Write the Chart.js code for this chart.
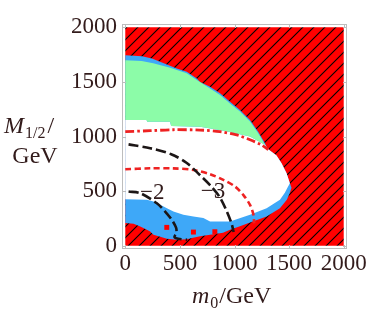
<!DOCTYPE html>
<html>
<head>
<meta charset="utf-8">
<script src="https://cdn.jsdelivr.net/npm/chart.js@4.4.0/dist/chart.umd.min.js"></script>
<style>
  html, body { margin: 0; padding: 0; background: #fff; }
  #wrap { width: 374px; height: 313px; }
</style>
</head>
<body>
<div id="wrap"><canvas id="myChart" width="374" height="313"></canvas></div>
<script>
// axis ticks (GeV)
const xTickValues = [0, 500, 1000, 1500, 2000];
const yTickValues = [0, 500, 1000, 1500, 2000];

// excluded region covers the whole plane, allowed regions are drawn over it
const excludedRegion = [[0, 0], [2000, 0], [2000, 2000], [0, 2000]];

// outer edge of the allowed (blue) region, [m0, M1/2]
const blueRegion = [
  [0, 207], [0, 1744], [153, 1735], [244, 1714], [347, 1674], [472, 1623],
  [563, 1592], [655, 1531], [685, 1500], [776, 1455], [868, 1395], [959, 1318],
  [1050, 1242], [1142, 1151], [1217, 1044], [1279, 938], [1300, 890], [1385, 825],
  [1431, 755], [1477, 664], [1507, 573], [1522, 530], [1507, 484], [1479, 420],
  [1416, 344], [1294, 268], [1142, 213], [1050, 178], [959, 146], [895, 119],
  [776, 100], [685, 87], [621, 73], [563, 59], [472, 55], [381, 64], [320, 82],
  [258, 100], [228, 131], [198, 146], [137, 176], [76, 201]
];

const whiteRegion = [
  [0, 426], [0, 1151], [195, 1151], [200, 1135], [410, 1135], [420, 1096],
  [685, 1090], [914, 1050], [1142, 1000], [1279, 925], [1294, 905], [1300, 890],
  [1385, 825], [1431, 755], [1477, 664], [1507, 573], [1482, 526], [1461, 484],
  [1416, 420], [1294, 344], [1142, 283], [959, 222], [776, 222], [715, 253],
  [624, 268], [532, 283], [441, 313], [381, 344], [320, 374], [258, 405], [198, 420]
];

const greenRegion = [
  [0, 1151], [0, 1699], [150, 1692], [256, 1671], [411, 1630], [563, 1580],
  [655, 1518], [776, 1440], [868, 1380], [959, 1303], [1050, 1228], [1142, 1137],
  [1217, 1030], [1279, 925], [1294, 905], [1279, 922], [1142, 1000], [914, 1050],
  [685, 1090], [420, 1096], [410, 1135], [200, 1135], [195, 1151]
];

// isolated excluded points inside the blue band
const redSpots = [[380, 168], [624, 125], [820, 128]];

// contours
const contourMinus2 = [
  [30, 496], [137, 481], [289, 389], [365, 313], [426, 237], [465, 165],
  [468, 115], [450, 82], [484, 64], [566, 55]
];
const contourMinus3 = [
  [30, 928], [228, 893], [420, 838], [560, 760], [680, 650], [790, 540],
  [868, 440], [929, 315], [974, 200], [992, 125]
];
const redDashed = [
  [0, 700], [228, 709], [441, 708], [624, 694], [776, 655], [898, 603],
  [1005, 542], [1080, 466], [1142, 374], [1172, 290], [1180, 205]
];
const redDashDot = [
  [0, 1044], [228, 1053], [441, 1062], [685, 1059], [868, 1044], [1020, 1014],
  [1142, 970], [1248, 922], [1310, 880]
];

const contourLabels = ["\u22122", "\u22123"];
const contourLabelX = [247, 804];
const contourLabelY = [484, 493];

const textColor = "#321b1b";
const serif = "'Liberation Serif', 'DejaVu Serif', serif";

const toPoints = (arr) => arr.map(([x, y]) => ({ x, y }));

const makeHatch = () => {
  const s = 11;
  const c = document.createElement("canvas");
  c.width = s;
  c.height = s;
  const g = c.getContext("2d");
  g.fillStyle = "#ff0000";
  g.fillRect(0, 0, s, s);
  g.strokeStyle = "#000000";
  g.lineWidth = 1.1;
  g.beginPath();
  g.moveTo(0, s); g.lineTo(s, 0);
  g.moveTo(-1, 1); g.lineTo(1, -1);
  g.moveTo(s - 1, s + 1); g.lineTo(s + 1, s - 1);
  g.stroke();
  return g.createPattern(c, "repeat");
};

const region = (data, color, order) => ({
  data: toPoints(data),
  showLine: true,
  fill: "shape",
  backgroundColor: color,
  borderColor: "rgba(0,0,0,0)",
  borderWidth: 0,
  pointRadius: 0,
  tension: 0,
  order,
});

const contour = (data, color, dash, width) => ({
  data: toPoints(data),
  showLine: true,
  fill: false,
  borderColor: color,
  borderWidth: width,
  borderDash: dash,
  pointRadius: 0,
  tension: 0.3,
  order: 1,
});

const overlay = {
  id: "overlay",
  afterDatasetsDraw(chart) {
    const { ctx, scales: { x, y } } = chart;
    ctx.save();
    ctx.fillStyle = textColor;
    ctx.font = "23px " + serif;
    ctx.textAlign = "center";
    ctx.textBaseline = "middle";
    contourLabels.forEach((t, i) => {
      ctx.fillText(t, x.getPixelForValue(contourLabelX[i]), y.getPixelForValue(contourLabelY[i]));
    });
    ctx.restore();
  },
  afterDraw(chart) {
    const { ctx, chartArea: a, scales: { x, y } } = chart;
    ctx.save();
    // frame
    ctx.strokeStyle = "#bdbdbd";
    ctx.lineWidth = 1;
    ctx.strokeRect(a.left + 0.5, a.top + 0.5, a.width - 1, a.height - 1);
    // ticks pointing inward
    ctx.beginPath();
    xTickValues.forEach((v) => {
      const px = Math.round(x.getPixelForValue(v)) + 0.5;
      ctx.moveTo(px, a.bottom); ctx.lineTo(px, a.bottom - 4);
      ctx.moveTo(px, a.top); ctx.lineTo(px, a.top + 4);
    });
    yTickValues.forEach((v) => {
      const py = Math.round(y.getPixelForValue(v)) + 0.5;
      ctx.moveTo(a.left, py); ctx.lineTo(a.left + 4, py);
      ctx.moveTo(a.right, py); ctx.lineTo(a.right - 4, py);
    });
    ctx.stroke();

    // axis titles
    ctx.fillStyle = textColor;
    ctx.textBaseline = "alphabetic";
    ctx.textAlign = "left";
    const big = "24px " + serif;
    const bigIt = "italic 24px " + serif;
    const small = "16px " + serif;

    // m_0 / GeV
    let cx = 192;
    ctx.font = bigIt;
    ctx.fillText("m", cx, 303);
    cx += ctx.measureText("m").width + 1;
    ctx.font = small;
    ctx.fillText("0", cx, 308);
    cx += ctx.measureText("0").width + 1;
    ctx.font = big;
    ctx.fillText("/GeV", cx, 303);

    // M_{1/2} / GeV
    cx = 4;
    ctx.font = bigIt;
    ctx.fillText("M", cx, 133);
    cx += ctx.measureText("M").width + 1;
    ctx.font = small;
    ctx.fillText("1/2", cx, 138);
    cx += ctx.measureText("1/2").width + 2;
    ctx.font = big;
    ctx.fillText("/", cx, 133);
    ctx.textAlign = "center";
    ctx.fillText("GeV", 35, 163);
    ctx.restore();
  },
};

const initChart = () => {
  const canvas = document.getElementById("myChart");
  const ctx = canvas.getContext("2d");

  new Chart(ctx, {
    type: "scatter",
    data: {
      datasets: [
        contour(contourMinus2, "#1c1616", [10, 4], 2.6),
        contour(contourMinus3, "#1c1616", [10, 4], 2.6),
        contour(redDashed, "#ee2222", [6, 3.5], 2.6),
        contour(redDashDot, "#ee2222", [9, 3, 2.5, 3], 2.8),
        {
          data: toPoints(redSpots),
          showLine: false,
          pointStyle: "rect",
          pointRadius: 3.5,
          backgroundColor: "#ff0000",
          borderWidth: 0,
          order: 2,
        },
        region(greenRegion, "#8cfca8", 5),
        region(whiteRegion, "#ffffff", 6),
        region(blueRegion, "#3ea8f8", 7),
        region(excludedRegion, makeHatch(), 8),
      ],
    },
    options: {
      responsive: false,
      animation: false,
      layout: { padding: { top: 24, right: 27, left: 0, bottom: 0 } },
      plugins: {
        legend: { display: false },
        tooltip: { enabled: false },
      },
      scales: {
        x: {
          type: "linear",
          min: -30,
          max: 2030,
          grid: { display: false, drawTicks: false },
          border: { display: false },
          afterBuildTicks: (s) => { s.ticks = xTickValues.map((v) => ({ value: v })); },
          afterFit: (s) => { s.height = 64; },
          ticks: {
            padding: 1,
            color: textColor,
            font: { family: serif, size: 23 },
            maxRotation: 0,
            autoSkip: false,
            callback: (v) => String(v),
          },
        },
        y: {
          type: "linear",
          min: -30,
          max: 2030,
          grid: { display: false, drawTicks: false },
          border: { display: false },
          afterBuildTicks: (s) => { s.ticks = yTickValues.map((v) => ({ value: v })); },
          afterFit: (s) => { s.width = 122; },
          ticks: {
            padding: 5,
            color: textColor,
            font: { family: serif, size: 23 },
            autoSkip: false,
            callback: (v) => String(v),
          },
        },
      },
    },
    plugins: [overlay],
  });
};

document.addEventListener("DOMContentLoaded", initChart);
</script>
</body>
</html>
